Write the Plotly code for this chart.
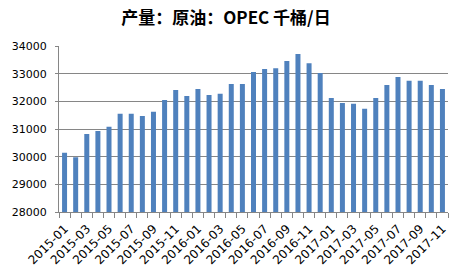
import plotly.graph_objects as go

months = [f"{y}-{m:02d}" for y in (2015, 2016, 2017) for m in range(1, 13)][:35]
values = [30140, 29980, 30820, 30930, 31080, 31550, 31550, 31470, 31620, 32050,
          32410, 32190, 32450, 32230, 32270, 32630, 32630, 33060, 33170, 33200,
          33460, 33710, 33380, 33020, 32120, 31940, 31910, 31730, 32120, 32590,
          32880, 32740, 32740, 32590, 32450]
tick_text = [m if i % 2 == 0 else "" for i, m in enumerate(months)]
title = "产量：原油：OPEC 千桶/日"

fig = go.Figure(go.Bar(x=months, y=values, marker_color="#4F81BD",
                       marker_line_width=0))
fig.update_layout(
    width=464, height=279,
    margin=dict(l=47, r=16, t=46, b=67),
    paper_bgcolor="white", plot_bgcolor="white",
    bargap=0.55,
    showlegend=False,
    title=dict(text=f"<b>{title}</b>", x=0.487, xanchor="center", y=0.935,
               yanchor="middle",
               font=dict(family="Noto Sans CJK SC, DejaVu Sans", size=17, color="#000")),
    font=dict(family="DejaVu Sans", size=11, color="#000"),
)
fig.update_xaxes(type="category", tickmode="array", tickvals=months, ticktext=tick_text,
                 tickangle=-45, tickson="boundaries", ticks="outside", ticklen=5,
                 tickcolor="#868686", showline=True, linecolor="#868686", linewidth=1,
                 showgrid=False, tickfont=dict(size=12), ticklabelstandoff=4)
fig.update_yaxes(range=[28000, 34000], dtick=1000, showgrid=True, gridcolor="#868686",
                 gridwidth=1, showline=True, linecolor="#868686", linewidth=1,
                 ticks="outside", ticklen=3, tickcolor="#868686", zeroline=False,
                 tickformat="d", tickfont=dict(size=11), ticklabelstandoff=6)
fig.write_html("out.html")
